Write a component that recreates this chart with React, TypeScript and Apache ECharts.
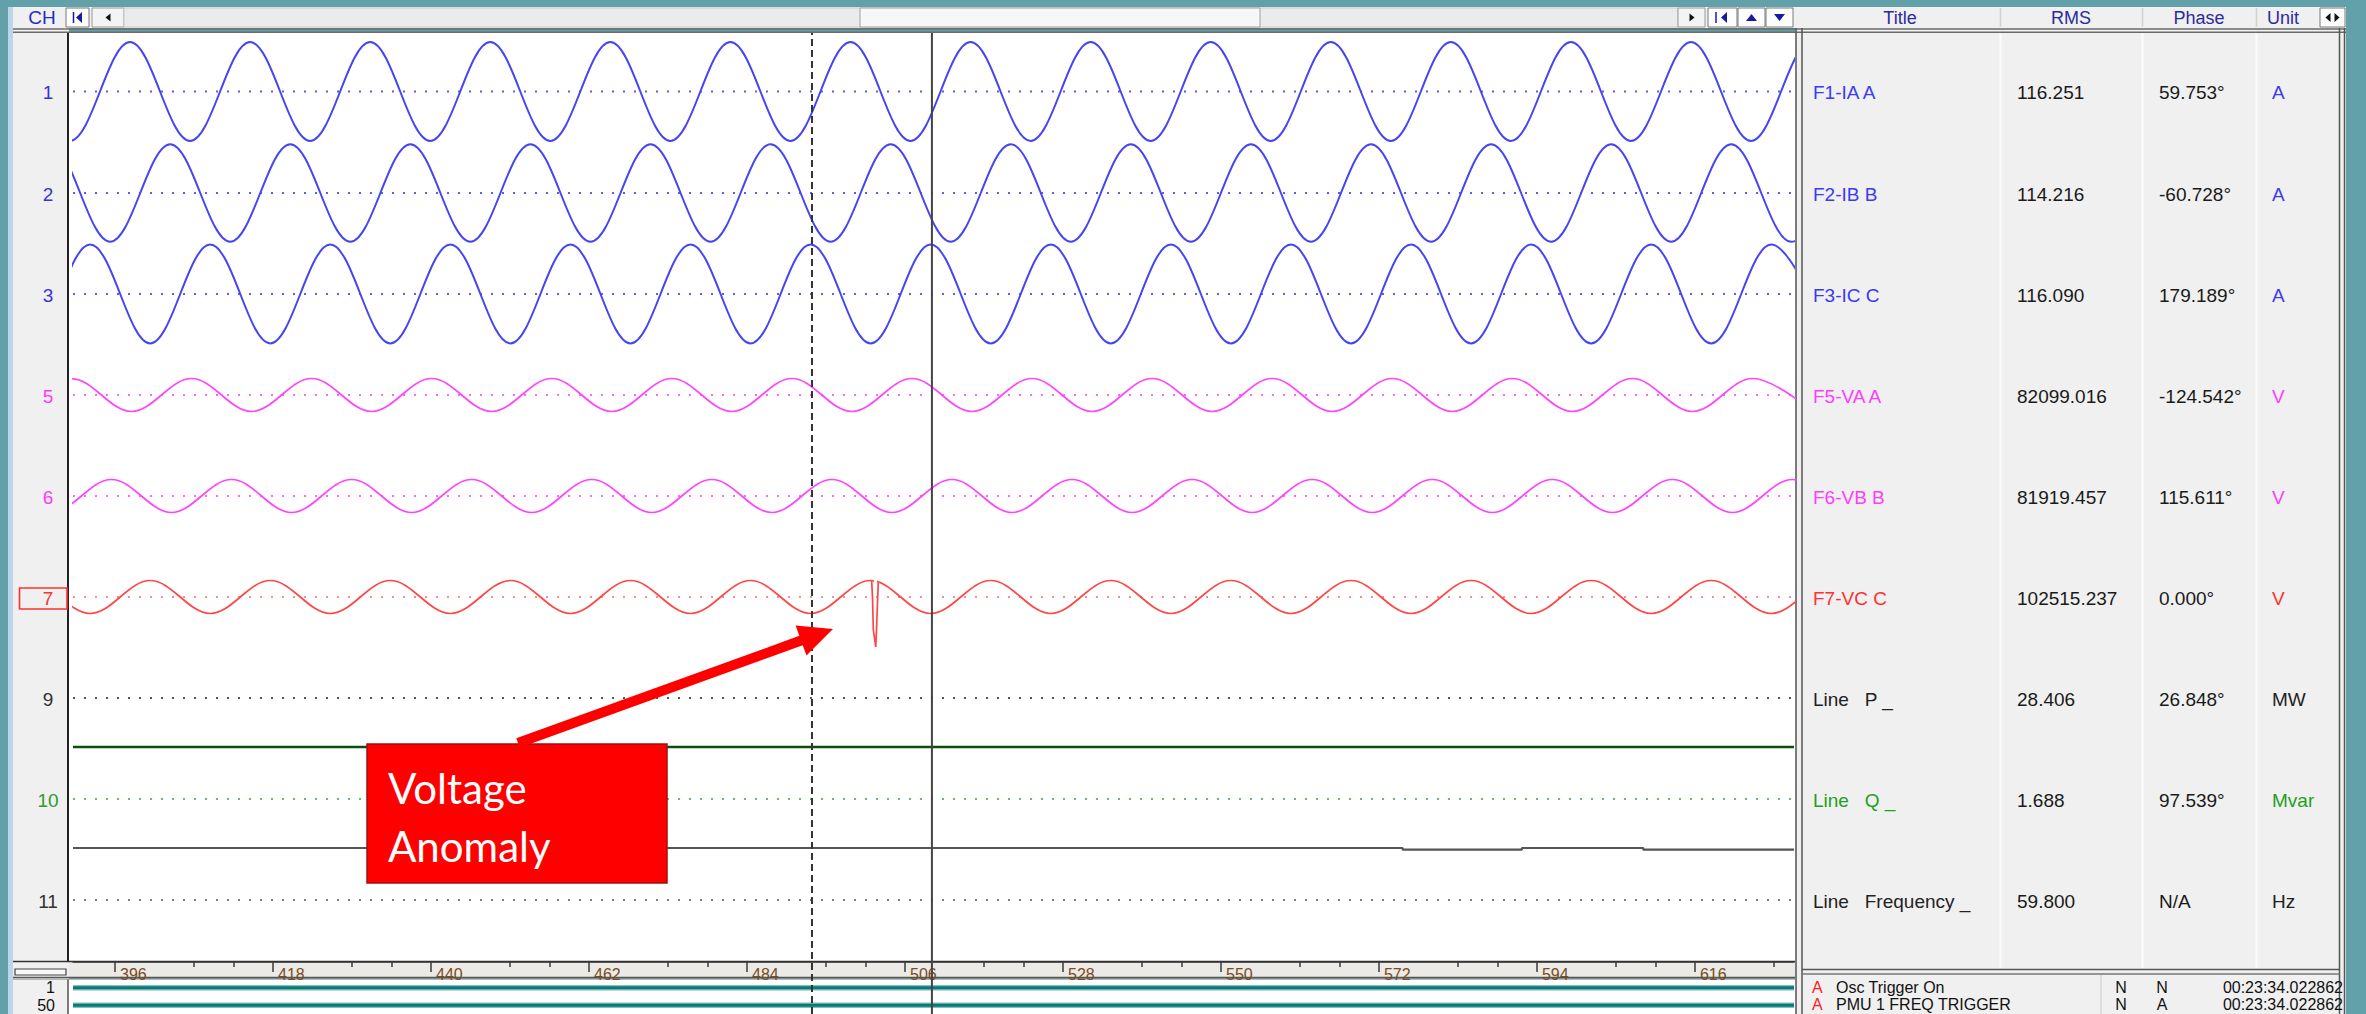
import React, { useEffect, useRef } from "react";
import * as echarts from "echarts";

// ---------------- DATA ----------------
// x axis: time in ms
const X_TICKS = [396, 418, 440, 462, 484, 506, 528, 550, 572, 594, 616];
const X_MINOR = [407, 412.5, 429, 434.5, 451, 456.5, 473, 478.5, 495, 500.5, 517, 522.5, 539, 544.5, 561, 566.5, 583, 588.5, 605, 610.5, 627];
const XMIN = 390.15;
const XMAX = 629.79;

// waveform extremes [ms, value] (peaks / troughs)
const IA_EXT = [[381.37,164],[389.73,-164],[398.09,164],[406.45,-164],[414.81,164],[423.17,-164],[431.53,164],[439.89,-164],[448.25,164],[456.61,-164],[464.97,164],[473.33,-164],[481.69,164],[490.05,-164],[498.41,164],[506.77,-164],[515.13,164],[523.49,-164],[531.85,164],[540.21,-164],[548.57,164],[556.93,-164],[565.29,164],[573.65,-164],[582.01,164],[590.37,-164],[598.73,164],[607.09,-164],[615.45,164],[623.81,-164],[632.17,164],[640.53,-164]];
const IB_EXT = [[378.61,-162],[386.97,162],[395.33,-162],[403.69,162],[412.05,-162],[420.41,162],[428.77,-162],[437.13,162],[445.49,-162],[453.85,162],[462.21,-162],[470.57,162],[478.93,-162],[487.29,162],[495.65,-162],[504.01,162],[512.37,-162],[520.73,162],[529.09,-162],[537.45,162],[545.81,-162],[554.17,162],[562.53,-162],[570.89,162],[579.25,-162],[587.61,162],[595.97,-162],[604.33,162],[612.69,-162],[621.05,162],[629.41,-162],[637.77,162]];
const IC_EXT = [[375.82,164],[384.18,-164],[392.54,164],[400.90,-164],[409.26,164],[417.62,-164],[425.98,164],[434.34,-164],[442.70,164],[451.06,-164],[459.42,164],[467.78,-164],[476.14,164],[484.50,-164],[492.86,164],[501.22,-164],[509.58,164],[517.94,-164],[526.30,164],[534.66,-164],[543.02,164],[551.38,-164],[559.74,164],[568.10,-164],[576.46,164],[584.82,-164],[593.18,164],[601.54,-164],[609.90,164],[618.26,-164],[626.62,164],[634.98,-164]];
const VA_EXT = [[373.21,116],[381.57,-116],[389.93,116],[398.29,-116],[406.65,116],[415.01,-116],[423.37,116],[431.73,-116],[440.09,116],[448.45,-116],[456.81,116],[465.17,-116],[473.53,116],[481.89,-116],[490.25,116],[498.61,-116],[506.97,116],[515.33,-116],[523.69,116],[532.05,-116],[540.41,116],[548.77,-116],[557.13,116],[565.49,-116],[573.85,116],[582.21,-116],[590.57,116],[598.93,-116],[607.29,116],[615.65,-116],[624.01,116],[632.37,-116]];
const VB_EXT = [[378.78,116],[387.14,-116],[395.50,116],[403.86,-116],[412.22,116],[420.58,-116],[428.94,116],[437.30,-116],[445.66,116],[454.02,-116],[462.38,116],[470.74,-116],[479.10,116],[487.46,-116],[495.82,116],[504.18,-116],[512.54,116],[520.90,-116],[529.26,116],[537.62,-116],[545.98,116],[554.34,-116],[562.70,116],[571.06,-116],[579.42,116],[587.78,-116],[596.14,116],[604.50,-116],[612.86,116],[621.22,-116],[629.58,116],[637.94,-116]];
const VC_EXT = [[375.82,-116],[384.18,116],[392.54,-116],[400.90,116],[409.26,-116],[417.62,116],[425.98,-116],[434.34,116],[442.70,-116],[451.06,116],[459.42,-116],[467.78,116],[476.14,-116],[484.50,116],[492.86,-116],[501.22,116],[509.58,-116],[517.94,116],[526.30,-116],[534.66,116],[543.02,-116],[551.38,116],[559.74,-116],[568.10,116],[576.46,-116],[584.82,116],[593.18,-116],[601.54,116],[609.90,-116],[618.26,116],[626.62,-116],[634.98,116],[643.34,-116]];
// the voltage anomaly on VC
const VC_SPIKE = [[501.36,116],[501.48,-7],[501.59,-232],[501.93,-352],[502.03,-232],[502.28,106]];
// Line Q and Line Frequency traces
const Q_LINE = [[390.15,1.688],[629.79,1.688]];
const F_LINE = [[390.15,59.8],[575.3,59.774],[591.9,59.8],[608.8,59.774],[629.79,59.774]];
// cursors (ms)
const CURSORS = [493.05, 509.75];

// channel list
const CH_LABELS = ["1", "2", "3", "5", "6", "7", "9", "10", "11"];
const TITLES = ["F1-IA A", "F2-IB B", "F3-IC C", "F5-VA A", "F6-VB B", "F7-VC C", "Line   P _", "Line   Q _", "Line   Frequency _"];
const RMS = ["116.251", "114.216", "116.090", "82099.016", "81919.457", "102515.237", "28.406", "1.688", "59.800"];
const PHASES = ["59.753°", "-60.728°", "179.189°", "-124.542°", "115.611°", "0.000°", "26.848°", "97.539°", "N/A"];
const UNITS = ["A", "A", "A", "V", "V", "V", "MW", "Mvar", "Hz"];
const HEADERS = ["Title", "RMS", "Phase", "Unit"];
const DIG_LABELS = ["1", "50"];
const EVENTS = [
  ["A", "Osc Trigger On", "N", "N", "00:23:34.022862"],
  ["A", "PMU 1 FREQ TRIGGER", "N", "A", "00:23:34.022862"],
];

// ---------------- LAYOUT / STYLE ----------------
const W = 2366, H = 1014;
const PL = 73, PR = 1794, T = 33, B = 962;
const PPM = (PR - PL) / (XMAX - XMIN);
const ROW_Y = [91.5, 193, 294, 395, 496, 597, 698, 799, 900];
const UNITS_PER_PX = [3.32, 3.32, 3.32, 7.04, 7.04, 7.04, 1, 1.688 / 52, 0.8 / 52];
const CENTER_VAL = [0, 0, 0, 0, 0, 0, 0, 0, 59.0];
const BLUE = "#4545f2", MAG = "#ff44ff", RED = "#ff4646";
const WAVE_COL = [BLUE, BLUE, BLUE, MAG, MAG, RED];
const DOT_COL = ["#5c5cf6", "#5c5cf6", "#5c5cf6", "#ff66ff", "#ff66ff", "#ff8a8a", "#555555", "#66bb66", "#7a7a7a"];
const LABEL_COL = ["#3434d8", "#3434d8", "#3434d8", "#ff38ff", "#ff38ff", "#ff3030", "#333333", "#2e9a2e", "#333333"];
const TITLE_COL = ["#3a3af0", "#3a3af0", "#3a3af0", "#ff3cff", "#ff3cff", "#ff3030", "#222222", "#22a022", "#222222"];
const UNIT_COL = ["#3a3af0", "#3a3af0", "#3a3af0", "#ff3cff", "#ff3cff", "#ff3030", "#222222", "#22a022", "#222222"];
const FONT = "Liberation Sans";
const TEAL = "#62a0aa";
const PANEL = "#f0f0f0";

function yRange(i: number) {
  const k = UNITS_PER_PX[i];
  const c = CENTER_VAL[i];
  return { min: c - (B - ROW_Y[i]) * k, max: c + (ROW_Y[i] - T) * k };
}

const rect = (x: number, y: number, w: number, h: number, fill: string, stroke?: string, lw = 1, z = -10) => ({
  type: "rect", z, silent: true, shape: { x, y, width: w, height: h },
  style: { fill, stroke: stroke || null, lineWidth: stroke ? lw : 0 },
});
const hline = (x1: number, x2: number, y: number, stroke: string, lw = 1, z = -5) => ({
  type: "line", z, silent: true, shape: { x1, y1: y, x2, y2: y }, style: { stroke, lineWidth: lw },
});
const vline = (x: number, y1: number, y2: number, stroke: string, lw = 1, z = -5) => ({
  type: "line", z, silent: true, shape: { x1: x, y1, x2: x, y2 }, style: { stroke, lineWidth: lw },
});
const txt = (x: number, y: number, text: string, fill: string, size: number, align = "left", extra: any = {}, z = 5) => ({
  type: "text", x, y, z, silent: true,
  style: { text, fill, fontSize: size, fontFamily: FONT, align, verticalAlign: "middle", textAlign: align, textVerticalAlign: "middle", ...extra },
});
const tri = (cx: number, cy: number, dir: string, w: number, h: number, fill: string, z = 3) => {
  let pts: number[][];
  if (dir === "left") pts = [[cx + w / 2, cy - h / 2], [cx + w / 2, cy + h / 2], [cx - w / 2, cy]];
  else if (dir === "right") pts = [[cx - w / 2, cy - h / 2], [cx - w / 2, cy + h / 2], [cx + w / 2, cy]];
  else if (dir === "up") pts = [[cx - w / 2, cy + h / 2], [cx + w / 2, cy + h / 2], [cx, cy - h / 2]];
  else pts = [[cx - w / 2, cy - h / 2], [cx + w / 2, cy - h / 2], [cx, cy + h / 2]];
  return { type: "polygon", z, silent: true, shape: { points: pts }, style: { fill } };
};

function arrowPolygon(sx: number, sy: number, ex: number, ey: number, shaftW: number, headL: number, headW: number) {
  const len = Math.hypot(ex - sx, ey - sy);
  const dx = (ex - sx) / len, dy = (ey - sy) / len;
  const nx = -dy, ny = dx;
  const bx = ex - dx * headL, by = ey - dy * headL;
  const s = shaftW / 2, h = headW / 2;
  return [
    [sx + nx * s, sy + ny * s], [bx + nx * s, by + ny * s], [bx + nx * h, by + ny * h], [ex, ey],
    [bx - nx * h, by - ny * h], [bx - nx * s, by - ny * s], [sx - nx * s, sy - ny * s],
  ];
}

function buildGraphics() {
  const g: any[] = [];
  // frame
  g.push(rect(8, 7, 5, H - 7, "#bcd5e8"));
  g.push(rect(13, 7, 2333, 21, PANEL));
  g.push(rect(13, 28, 56, H - 28, PANEL));
  g.push(rect(69, T, 1726, B - T, "#ffffff"));
  g.push(rect(69, B, 1726, 15, "#ebeae6"));
  g.push(rect(69, 979, 1726, 35, "#ffffff"));
  g.push(rect(1795, 28, 551, H - 28, PANEL));
  // borders
  g.push(hline(13, 2346, 29, "#6a6a6a", 1.5));
  g.push(hline(13, 2346, 32.2, "#6a6a6a", 1.5));
  g.push(vline(68, T, B, "#222222", 2));
  g.push(vline(68, 979, H, "#555555", 1.5));
  g.push(hline(13, 1795, 961.5, "#333333", 1.5));
  g.push(hline(13, 1795, 977.5, "#555555", 1.5));
  g.push(hline(13, 1795, 979.2, "#9a9a9a", 1));
  g.push(vline(1796, 28, H, "#555555", 1.5));
  g.push(vline(1802, 28, H, "#555555", 1.5));
  g.push(vline(2339.5, 28, H, "#555555", 1.5));
  g.push(vline(2344.5, 28, H, "#555555", 1.5));
  [2000.5, 2142.5, 2256.5].forEach((x) => g.push(vline(x, 33, 968, "#fbfbfb", 2)));
  g.push(hline(1802, 2339.5, 969.5, "#555555", 1.5));
  g.push(hline(1802, 2339.5, 974, "#777777", 1.5));
  g.push(vline(2101, 975, H, "#d6d6d6", 1.5));
  // splitter widget bottom-left
  g.push(rect(15, 969, 51, 6, "#f8f8f8", "#444444", 1.2, -4));

  // toolbar
  g.push(txt(42, 17.5, "CH", "#2a2ac4", 19, "center"));
  g.push(rect(66, 8, 23, 19, "#fdfdfd", "#7a7a7a", 1, -4));
  g.push(vline(73.5, 12, 23, "#1a1aa0", 1.5, 3));
  g.push(tri(79, 17.5, "left", 6, 11, "#1a1aa0"));
  g.push(rect(92, 8, 32, 19, "#f4f4f4", "#9a9a9a", 1, -4));
  g.push(tri(108, 17.5, "left", 5, 8, "#111111"));
  g.push(rect(124, 8, 1554, 19, "#ebebeb", "#c8c8c8", 1, -4));
  g.push(rect(860, 8, 400, 19, "#f7f7f7", "#a0a0a0", 1, -3));
  g.push(rect(1678, 8, 27, 19, "#f4f4f4", "#9a9a9a", 1, -3));
  g.push(tri(1692, 17.5, "right", 5, 8, "#111111"));
  g.push(rect(1708, 8, 29, 19, "#fdfdfd", "#7a7a7a", 1, -3));
  g.push(vline(1716, 12, 23, "#1a1aa0", 1.5, 3));
  g.push(tri(1724, 17.5, "left", 6, 11, "#1a1aa0"));
  g.push(rect(1738, 8, 27, 19, "#fdfdfd", "#7a7a7a", 1, -3));
  g.push(tri(1751.5, 17.5, "up", 11, 7, "#1a1aa0"));
  g.push(rect(1766, 8, 27, 19, "#fdfdfd", "#7a7a7a", 1, -3));
  g.push(tri(1779.5, 17.5, "down", 11, 7, "#1a1aa0"));
  // table header
  [2000.5, 2142.5, 2256.5].forEach((x) => g.push(vline(x, 8, 27, "#d2d2d2", 1.5)));
  const hdrX = [1900, 2071, 2199, 2283];
  HEADERS.forEach((h, i) => g.push(txt(hdrX[i], 18, h, "#2b2b9e", 18, "center")));
  g.push(rect(2320, 8, 25, 19, "#fdfdfd", "#7a7a7a", 1, -3));
  g.push(tri(2328, 17.5, "left", 5, 9, "#111111"));
  g.push(tri(2337, 17.5, "right", 5, 9, "#111111"));

  // channel labels
  CH_LABELS.forEach((l, i) => g.push(txt(48, ROW_Y[i] + 1, l, LABEL_COL[i], 19, "center")));
  g.push(rect(19.5, 588, 47.5, 21, "none", "#ff3030", 1.6, 4));

  // table rows
  TITLES.forEach((t, i) => {
    const y = ROW_Y[i] + 1;
    g.push(txt(1813, y, t, TITLE_COL[i], 19));
    g.push(txt(2017, y, RMS[i], "#1a1a1a", 19));
    g.push(txt(2159, y, PHASES[i], "#1a1a1a", 19));
    g.push(txt(2272, y, UNITS[i], UNIT_COL[i], 19));
  });

  // events
  EVENTS.forEach((e, i) => {
    const y = 987 + i * 17;
    const ex = { lineHeight: 15 };
    g.push(txt(1812, y, e[0], "#ff2020", 16, "left", ex));
    g.push(txt(1836, y, e[1], "#111111", 16, "left", ex));
    g.push(txt(2121, y, e[2], "#111111", 16, "center", ex));
    g.push(txt(2162, y, e[3], "#111111", 16, "center", ex));
    g.push(txt(2343, y, e[4], "#111111", 16, "right", ex));
  });

  // annotation
  g.push({ type: "rect", z: 100, silent: true, shape: { x: 367, y: 744, width: 300, height: 139 }, style: { fill: "#ff0000", stroke: "#a01010", lineWidth: 1.5 } });
  g.push(txt(388, 788, "Voltage", "#ffffff", 42, "left", { fontFamily: "Lato" }, 101));
  g.push(txt(388, 846, "Anomaly", "#ffffff", 42, "left", { fontFamily: "Lato" }, 101));
  g.push({ type: "polygon", z: 100, silent: true, shape: { points: arrowPolygon(518, 743, 833, 629, 10, 34, 32) }, style: { fill: "#ff0000" } });
  return g;
}

function buildOption(): any {
  const mainW = PR - PL;
  const aEnd = VC_SPIKE[0][0];
  const bStart = VC_SPIKE[VC_SPIKE.length - 1][0];
  const grids = [
    { left: PL, top: T, width: mainW, height: B - T },
    { left: PL, top: T, width: (aEnd - XMIN) * PPM, height: B - T },
    { left: PL + (bStart - XMIN) * PPM, top: T, width: (XMAX - bStart) * PPM, height: B - T },
    { left: PL, top: T, width: mainW, height: H - T },
    { left: PL, top: 979, width: mainW, height: 35 },
    { left: PL, top: B, width: mainW, height: 15 },
  ].map((g) => ({ ...g, show: false, containLabel: false, outerBoundsMode: "none" }));

  const hiddenX = (gridIndex: number, min: number, max: number) => ({ type: "value", gridIndex, min, max, show: false });
  const xAxis = [
    {
      type: "value", gridIndex: 0, min: XMIN, max: XMAX, position: "bottom",
      axisLine: { show: true, onZero: false, lineStyle: { color: "#333333", width: 1.5 } },
      axisTick: { show: true, customValues: X_TICKS, length: 10, lineStyle: { color: "#3a3a3a", width: 1.5 } },
      axisLabel: { show: true, customValues: X_TICKS, color: "#7a4c22", fontSize: 16, fontFamily: FONT, align: "left", verticalAlign: "top", margin: 4, padding: [0, 0, 0, 5] },
      splitLine: { show: false },
    },
    hiddenX(1, XMIN, aEnd),
    hiddenX(2, bStart, XMAX),
    hiddenX(3, XMIN, XMAX),
    hiddenX(4, XMIN, XMAX),
    {
      type: "value", gridIndex: 5, min: XMIN, max: XMAX, position: "top",
      axisLine: { show: false, onZero: false },
      axisTick: { show: true, inside: true, customValues: X_MINOR, length: 5, lineStyle: { color: "#3a3a3a", width: 1.5 } },
      axisLabel: { show: false },
      splitLine: { show: false },
    },
  ];

  const yAxis: any[] = CH_LABELS.map((_, i) => ({ type: "value", gridIndex: 0, ...yRange(i), show: false }));
  yAxis.push({ type: "value", gridIndex: 1, ...yRange(5), show: false });
  yAxis.push({ type: "value", gridIndex: 2, ...yRange(5), show: false });
  yAxis.push({ type: "value", gridIndex: 3, min: 0, max: 1, show: false });
  yAxis.push({
    type: "category", gridIndex: 4, data: DIG_LABELS, inverse: true,
    axisLine: { show: false }, axisTick: { show: false }, splitLine: { show: false },
    axisLabel: { interval: 0, hideOverlap: false, color: "#111111", fontSize: 16, lineHeight: 15, fontFamily: FONT, margin: PL - 55 },
  });
  yAxis.push({ type: "value", gridIndex: 5, min: 0, max: 1, show: false });

  const series: any[] = [];
  // dotted baselines
  CH_LABELS.forEach((_, i) => {
    series.push({
      type: "line", xAxisIndex: 0, yAxisIndex: i, silent: true, symbol: "none", z: 1,
      data: [[XMIN, CENTER_VAL[i]], [XMAX, CENTER_VAL[i]]],
      lineStyle: { color: DOT_COL[i], width: 2, type: [2, 9] },
    });
  });
  const wave = (data: number[][], xi: number, yi: number, color: string, width: number) => ({
    type: "line", xAxisIndex: xi, yAxisIndex: yi, data, smooth: 0.36, symbol: "none", showSymbol: false,
    silent: true, clip: true, z: 3, lineStyle: { color, width },
  });
  series.push(wave(IA_EXT, 0, 0, WAVE_COL[0], 2));
  series.push(wave(IB_EXT, 0, 1, WAVE_COL[1], 2));
  series.push(wave(IC_EXT, 0, 2, WAVE_COL[2], 2));
  series.push(wave(VA_EXT, 0, 3, WAVE_COL[3], 1.7));
  series.push(wave(VB_EXT, 0, 4, WAVE_COL[4], 1.7));
  series.push(wave(VC_EXT, 1, 9, WAVE_COL[5], 1.7));
  series.push(wave(VC_EXT, 2, 10, WAVE_COL[5], 1.7));
  series.push({
    type: "line", xAxisIndex: 0, yAxisIndex: 5, data: VC_SPIKE, symbol: "none", silent: true, z: 3,
    lineStyle: { color: RED, width: 1.7 },
  });
  series.push({
    type: "line", xAxisIndex: 0, yAxisIndex: 7, data: Q_LINE, symbol: "none", silent: true, z: 3,
    lineStyle: { color: "#0b4f0b", width: 2.5 },
  });
  series.push({
    type: "line", xAxisIndex: 0, yAxisIndex: 8, data: F_LINE, step: "end", symbol: "none", silent: true, z: 3,
    lineStyle: { color: "#555555", width: 2.2 },
  });
  // digital channels
  DIG_LABELS.forEach((_, i) => {
    series.push({ type: "line", xAxisIndex: 4, yAxisIndex: 12, data: [[XMIN, i], [XMAX, i]], symbol: "none", silent: true, z: 2, lineStyle: { color: "#7cc2bf", width: 5.5 } });
    series.push({ type: "line", xAxisIndex: 4, yAxisIndex: 12, data: [[XMIN, i], [XMAX, i]], symbol: "none", silent: true, z: 2, lineStyle: { color: "#0b7a77", width: 3 } });
  });
  // cursors
  series.push({ type: "line", xAxisIndex: 3, yAxisIndex: 11, data: [[CURSORS[0], 0], [CURSORS[0], 1]], symbol: "none", silent: true, z: 4, lineStyle: { color: "#333333", width: 2, type: [7, 4] } });
  series.push({ type: "line", xAxisIndex: 3, yAxisIndex: 11, data: [[CURSORS[1], 0], [CURSORS[1], 1]], symbol: "none", silent: true, z: 4, lineStyle: { color: "#444444", width: 2 } });

  return {
    animation: false,
    backgroundColor: TEAL,
    grid: grids,
    xAxis,
    yAxis,
    series,
    graphic: { elements: buildGraphics() },
  };
}

export default function App() {
  const ref = useRef<HTMLDivElement>(null);
  useEffect(() => {
    document.body.style.margin = "0";
    const chart = echarts.init(ref.current as HTMLDivElement, null, { renderer: "svg", width: W, height: H });
    chart.setOption(buildOption());
    return () => chart.dispose();
  }, []);
  return <div ref={ref} style={{ position: "absolute", left: 0, top: 0, width: W, height: H }} />;
}
